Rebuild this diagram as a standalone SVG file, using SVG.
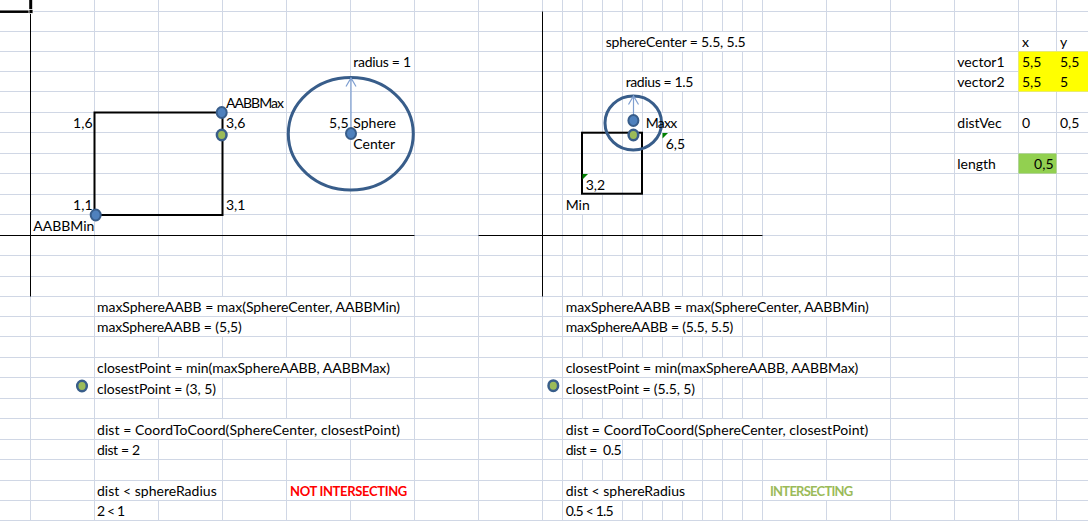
<svg xmlns="http://www.w3.org/2000/svg" width="1088" height="521" viewBox="0 0 1088 521">
<style>
.grid{stroke:#d0d7e5;stroke-width:1;fill:none}
.axis{stroke:#000;stroke-width:1;fill:none}
.hide{fill:#fff}
.t{font-family:Lato,"Liberation Sans",sans-serif;font-size:14px;fill:#000}
.r{text-anchor:end}
.box{fill:none;stroke:#000;stroke-width:2}
.ring{fill:none;stroke:#385d8a;stroke-width:3}
.dotb{fill:#4f81bd;stroke:#385d8a;stroke-width:2}
.dotg{fill:#9bbb59;stroke:#385d8a;stroke-width:2.5}
.arr{fill:none;stroke:#7f9fd0;stroke-width:1.2}
.tri{fill:#008000}
.bad{font-weight:bold;font-size:13px;fill:#ff0000}
.ok{font-weight:bold;font-size:13px;fill:#9bbb59}
</style>
<rect width="1088" height="521" fill="#fff"/>
<g id="grid">
<path class="grid" d="M30.5 0V521M94.5 0V521M158.5 0V521M222.5 0V521M286.5 0V521M350.5 0V521M414.5 0V521M478.5 0V521M542.5 0V521M562.5 0V521M582.5 0V521M602.5 0V521M622.5 0V521M642.5 0V521M662.5 0V521M682.5 0V521M702.5 0V521M722.5 0V521M742.5 0V521M762.5 0V521M826.5 0V521M890.5 0V521M954.5 0V521M1018.5 0V521M1056.5 0V521"/>
<path class="grid" d="M0 11.5H1088M0 31.5H1088M0 51.5H1088M0 71.5H1088M0 91.5H1088M0 112.5H1088M0 132.5H1088M0 153.5H1088M0 173.5H1088M0 194.5H1088M0 214.5H1088M0 235.5H1088M0 255.5H1088M0 276.5H1088M0 296.5H1088M0 316.5H1088M0 336.5H1088M0 357.5H1088M0 377.5H1088M0 398.5H1088M0 418.5H1088M0 439.5H1088M0 459.5H1088M0 480.5H1088M0 500.5H1088M0 520.5H1088"/>
</g>
<g id="overflow">
<rect class="hide" x="621.5" y="32" width="122" height="19"/>
<rect class="hide" x="641.5" y="72" width="42" height="19"/>
<rect class="hide" x="661.5" y="113" width="2" height="19"/>
<rect class="hide" x="601.5" y="174" width="2" height="20"/>
<rect class="hide" x="581.5" y="195" width="2" height="19"/>
<rect class="hide" x="157.5" y="297" width="194" height="19"/>
<rect class="hide" x="157.5" y="317" width="66" height="19"/>
<rect class="hide" x="157.5" y="358" width="194" height="19"/>
<rect class="hide" x="157.5" y="378" width="2" height="20"/>
<rect class="hide" x="157.5" y="419" width="194" height="20"/>
<rect class="hide" x="157.5" y="481" width="2" height="19"/>
<rect class="hide" x="349.5" y="481" width="2" height="19"/>
<rect class="hide" x="581.5" y="297" width="246" height="19"/>
<rect class="hide" x="581.5" y="317" width="142" height="19"/>
<rect class="hide" x="581.5" y="358" width="246" height="19"/>
<rect class="hide" x="581.5" y="378" width="102" height="20"/>
<rect class="hide" x="581.5" y="419" width="246" height="20"/>
<rect class="hide" x="581.5" y="440" width="22" height="19"/>
<rect class="hide" x="581.5" y="481" width="102" height="19"/>
<rect class="hide" x="825.5" y="481" width="2" height="19"/>
<rect class="hide" x="581.5" y="501" width="22" height="19"/>
</g>
<g id="fills">
<rect x="1018.5" y="51.5" width="69.5" height="40" fill="#ffff00"/>
<rect x="1018.5" y="153.5" width="38" height="20" fill="#92d050"/>
</g>
<g id="axes">
<path class="axis" d="M30.5 0V296.5M0 235.5H414.5M542.5 11.5V296.5M478.5 235.5H762.5"/>
<path d="M0 11.7H30.5" stroke="#000" stroke-width="2.5"/>
<path d="M30.7 0V12" stroke="#000" stroke-width="3"/>
<rect x="29" y="9.5" width="4" height="4" fill="#000" stroke="#fff" stroke-width="0.8"/>
</g>
<g id="aabb-left">
<rect class="box" x="94.5" y="112.5" width="128" height="102.5"/>
</g>
<g id="sphere-left">
<ellipse class="ring" cx="350.8" cy="133.8" rx="62.5" ry="56.2"/>
</g>
<g id="aabb-right">
<rect class="box" x="582" y="132.7" width="60" height="61"/>
</g>
<g id="sphere-right">
<ellipse class="ring" cx="633.3" cy="123" rx="28.3" ry="27"/>
</g>
<g id="connectors">
<path class="arr" d="M351 133V78M346 86.5L351 78L356 86.5"/>
<path class="arr" d="M633.5 120V96M628.5 104.5L633.5 96L638.5 104.5"/>
</g>
<g id="dot-aabbmax-left"><ellipse class="dotb" cx="221.7" cy="112.5" rx="5" ry="5.5"/></g>
<g id="dot-closest-left"><ellipse class="dotg" cx="221.7" cy="135" rx="4.8" ry="5.3"/></g>
<g id="dot-aabbmin-left"><ellipse class="dotb" cx="95.7" cy="215" rx="5" ry="5.5"/></g>
<g id="dot-center-left"><ellipse class="dotb" cx="351" cy="133.5" rx="5" ry="5.5"/></g>
<g id="dot-center-right"><ellipse class="dotb" cx="633.4" cy="120.5" rx="5" ry="5.5"/></g>
<g id="dot-closest-right"><ellipse class="dotg" cx="633.4" cy="135" rx="4.8" ry="5.3"/></g>
<g id="dot-legend-left"><ellipse class="dotg" cx="82" cy="386" rx="4.8" ry="5.3"/></g>
<g id="dot-legend-right"><ellipse class="dotg" cx="553.3" cy="385.7" rx="4.8" ry="5.3"/></g>
<g id="error-marks">
<polygon class="tri" points="662.5,133 668,133 662.5,138.5"/>
<polygon class="tri" points="582.5,174 588,174 582.5,179.5"/>
</g>
<g id="labels-left">
<text class="t" x="353.3" y="66.5" textLength="57.7">radius = 1</text>
<text class="t" x="226" y="107.5" textLength="58">AABBMax</text>
<text class="t r" x="92.5" y="127.5">1,6</text>
<text class="t" x="226" y="127.5">3,6</text>
<text class="t r" x="348.5" y="127.5">5,5</text>
<text class="t" x="353.3" y="127.5">Sphere</text>
<text class="t" x="353.3" y="148.5">Center</text>
<text class="t r" x="92.5" y="209.5">1,1</text>
<text class="t" x="226" y="209.5">3,1</text>
<text class="t" x="33.3" y="230.5">AABBMin</text>
</g>
<g id="labels-right">
<text class="t" x="605.7" y="46.5" textLength="140">sphereCenter = 5.5, 5.5</text>
<text class="t" x="625.7" y="86.5" textLength="67.6">radius = 1.5</text>
<text class="t" x="645.7" y="127.5" textLength="31.6">Maxx</text>
<text class="t" x="665.7" y="148.5">6,5</text>
<text class="t" x="585.7" y="189.5">3,2</text>
<text class="t" x="565.7" y="209.5">Min</text>
</g>
<g id="table">
<text class="t" x="1022" y="46.5">x</text>
<text class="t" x="1060" y="46.5">y</text>
<text class="t" x="957.3" y="66.5">vector1</text>
<text class="t" x="1022" y="66.5">5,5</text>
<text class="t" x="1060" y="66.5">5,5</text>
<text class="t" x="957.3" y="86.5">vector2</text>
<text class="t" x="1022" y="86.5">5,5</text>
<text class="t" x="1060" y="86.5">5</text>
<text class="t" x="957.3" y="127.5">distVec</text>
<text class="t" x="1022" y="127.5">0</text>
<text class="t" x="1060" y="127.5">0,5</text>
<text class="t" x="957.3" y="168.5">length</text>
<text class="t r" x="1053.5" y="168.5">0,5</text>
</g>
<g id="calc-left">
<text class="t" x="97" y="311.5" textLength="303">maxSphereAABB = max(SphereCenter, AABBMin)</text>
<text class="t" x="97" y="331.5" textLength="144.7">maxSphereAABB = (5,5)</text>
<text class="t" x="97" y="372.5" textLength="293">closestPoint = min(maxSphereAABB, AABBMax)</text>
<text class="t" x="97" y="393.5" textLength="119">closestPoint = (3, 5)</text>
<text class="t" x="97" y="434.5" textLength="303">dist = CoordToCoord(SphereCenter, closestPoint)</text>
<text class="t" x="97" y="454.5" textLength="43">dist = 2</text>
<text class="t" x="97" y="495.5" textLength="119.7">dist &lt; sphereRadius</text>
<text class="t bad" x="290" y="495.5" textLength="117.3">NOT INTERSECTING</text>
<text class="t" x="97" y="515.5" textLength="28">2 &lt; 1</text>
</g>
<g id="calc-right">
<text class="t" x="565.7" y="311.5" textLength="303">maxSphereAABB = max(SphereCenter, AABBMin)</text>
<text class="t" x="565.7" y="331.5" textLength="167.6">maxSphereAABB = (5.5, 5.5)</text>
<text class="t" x="565.7" y="372.5" textLength="292.6">closestPoint = min(maxSphereAABB, AABBMax)</text>
<text class="t" x="565.7" y="393.5" textLength="129.3">closestPoint = (5.5, 5)</text>
<text class="t" x="565.7" y="434.5" textLength="302.6">dist = CoordToCoord(SphereCenter, closestPoint)</text>
<text class="t" x="565.7" y="454.5" xml:space="preserve" textLength="56">dist =  0.5</text>
<text class="t" x="565.7" y="495.5" textLength="119.3">dist &lt; sphereRadius</text>
<text class="t ok" x="770" y="495.5" textLength="83.3">INTERSECTING</text>
<text class="t" x="565.7" y="515.5" textLength="48">0.5 &lt; 1.5</text>
</g>
</svg>
